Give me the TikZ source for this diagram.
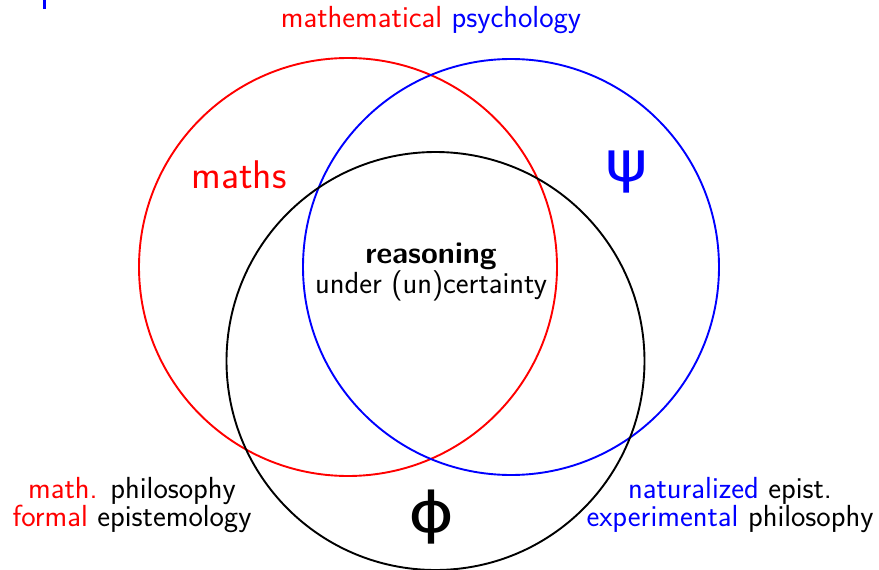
\documentclass[tikz,border=0pt]{standalone}
\usepackage{fontspec}
\newfontfamily\greekfont{DejaVu Sans}
\definecolor{myred}{RGB}{255,0,0}
\definecolor{myblue}{RGB}{0,0,255}
\begin{document}
\begin{tikzpicture}[x=1pt,y=-1pt,
  circ/.style={line width=1.9pt},
  lbl/.style={font=\sffamily\fontsize{30.5}{28.5}\selectfont, inner sep=0pt, align=center},
  big/.style={font=\sffamily\fontsize{40}{42}\selectfont, inner sep=0pt},
  greek/.style={font=\greekfont\fontsize{56}{58}\selectfont, inner sep=0pt}]
\useasboundingbox (0,0) rectangle (879,570);
\fill[myblue] (43,0) rectangle (46,9) node[coordinate] (frag) {};
\draw[circ, myred] (348,267) circle[radius=209];
\draw[circ, myblue] (511,267) circle[radius=208];
\draw[circ, black] (435.5,361) circle[radius=209];
\node[lbl] (top) at (431,20) {\textcolor{myred}{mathematical} \textcolor{myblue}{psychology}};
\node[big, text=myred] (maths) at (239,175) {maths};
\node[greek, text=myblue, xscale=1.15] (psi) at (627,172) {ψ};
\node[lbl] (reas) at (431,272) {\textbf{reasoning}\\under (un)certainty};
\node[lbl] (left) at (132,505) {\textcolor{myred}{math.} philosophy\\\textcolor{myred}{formal} epistemology};
\node[lbl] (right) at (730,505) {\textcolor{myblue}{naturalized} epist.\\\textcolor{myblue}{experimental} philosophy};
\node[greek, xscale=1.25] (phi) at (432,517) {ϕ};
\end{tikzpicture}
\end{document}
